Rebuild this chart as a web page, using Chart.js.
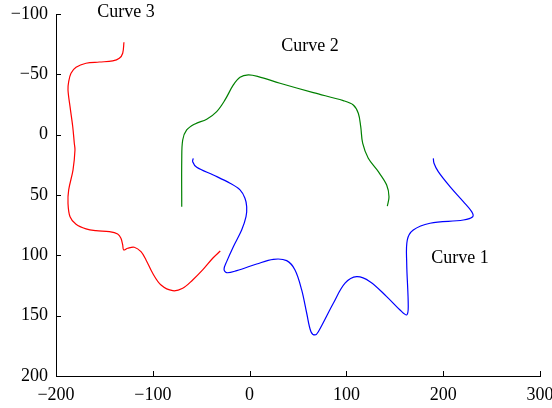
<!DOCTYPE html>
<html lang="en">
<head>
    <meta charset="UTF-8">
    <title>Curves</title>
    <script src="https://cdn.jsdelivr.net/npm/chart.js"></script>
    <style>
        * { margin: 0; padding: 0; box-sizing: border-box; }
        body { background: #fff; }
        .wrap { width: 552px; height: 408px; position: relative; }
    </style>
</head>
<body>
    <div class="wrap"><canvas id="chart"></canvas></div>

    <script>
        // data
        const curve1X = [-58.2, -58.8, -54.6, -37.5, -20.2, -9.9, -4.8, -3.0, -3.7, -8.2, -16.8, -23.7, -26.4, -23.7, -13.3, 7.3, 24.5, 38.3, 46.9, 53.8, 59.0, 63.4, 67.6, 71.0, 86.5, 98.6, 110.6, 124.4, 141.6, 155.4, 162.3, 163.9, 162.3, 162.9, 169.1, 186.4, 220.8, 230.5, 229.4, 220.8, 207.0, 194.9, 190.5, 189.8];
        const curve1Y = [19.6, 22.4, 27.0, 33.4, 40.3, 45.8, 52.7, 59.7, 68.0, 79.0, 92.8, 105.2, 111.5, 114.4, 112.7, 107.2, 103.3, 104.4, 112.1, 128.7, 148.0, 163.3, 166.0, 163.3, 139.7, 123.1, 117.7, 121.8, 134.2, 145.3, 149.4, 142.5, 106.6, 87.3, 79.0, 73.4, 70.7, 68.0, 63.8, 55.5, 43.1, 30.7, 23.7, 19.6];

        const curve2X = [-70.1, -70.1, -69.1, -65.0, -56.4, -44.3, -34.0, -25.4, -16.8, -9.9, -1.3, 9.0, 31.4, 65.8, 96.8, 107.1, 112.3, 114.8, 116.8, 122.6, 133.0, 141.6, 144.0, 142.3];
        const curve2Y = [59.7, 21.0, 4.4, -3.9, -8.9, -12.8, -19.1, -28.8, -41.2, -47.6, -49.5, -48.1, -42.6, -34.8, -28.2, -24.6, -17.7, -6.6, 7.1, 19.6, 30.7, 41.7, 51.4, 59.3];

        const curve3X = [-129.8, -131.1, -134.6, -141.4, -155.3, -169.0, -179.3, -184.5, -186.9, -187.6, -185.5, -182.7, -181.1, -180.4, -182.4, -186.9, -187.6, -185.5, -179.3, -169.0, -158.7, -144.9, -136.3, -132.9, -131.1, -130.1, -125.9, -119.1, -112.2, -107.0, -100.1, -91.5, -79.4, -69.1, -58.8, -48.5, -38.1, -30.3];
        const curve3Y = [-76.6, -67.5, -63.3, -61.1, -60.2, -59.2, -55.9, -50.9, -43.9, -37.0, -23.2, -6.6, 7.1, 12.7, 29.2, 45.8, 56.8, 68.0, 74.3, 78.1, 79.6, 80.4, 82.3, 85.9, 91.4, 95.5, 94.1, 93.3, 97.0, 103.8, 114.9, 124.6, 129.3, 127.3, 120.4, 112.1, 102.4, 96.4];

        const xTicks = [-200, -100, 0, 100, 200, 300];
        const yTicks = [-100, -50, 0, 50, 100, 150, 200];

        const curveLabels = ['Curve 1', 'Curve 2', 'Curve 3'];
        const labelX = [217.4, 62.4, -127.7];
        const labelY = [102.2, -73.5, -101.7];

        const font = 'Liberation Serif, Times New Roman, serif';

        function pts(xs, ys) {
            return xs.map((x, i) => ({ x: x, y: ys[i] }));
        }

        function minus(v) {
            return String(v).replace('-', '\u2212');
        }

        // inward tick marks + curve names
        const extras = {
            id: 'extras',
            afterDraw(chart) {
                const ctx = chart.ctx;
                const xs = chart.scales.x, ys = chart.scales.y;
                const area = chart.chartArea;
                ctx.save();
                ctx.strokeStyle = '#000';
                ctx.lineWidth = 1;
                ctx.beginPath();
                xTicks.forEach(t => {
                    const px = Math.round(xs.getPixelForValue(t)) + 0.5;
                    ctx.moveTo(px, area.bottom);
                    ctx.lineTo(px, area.bottom - 5);
                });
                yTicks.forEach(t => {
                    const py = Math.round(ys.getPixelForValue(t)) + 0.5;
                    ctx.moveTo(area.left, py);
                    ctx.lineTo(area.left + 5, py);
                });
                ctx.stroke();

                ctx.fillStyle = '#000';
                ctx.font = '18px ' + font;
                ctx.textAlign = 'center';
                ctx.textBaseline = 'middle';
                curveLabels.forEach((txt, i) => {
                    ctx.fillText(txt, xs.getPixelForValue(labelX[i]), ys.getPixelForValue(labelY[i]));
                });
                ctx.restore();
            }
        };

        new Chart(document.getElementById('chart'), {
            type: 'scatter',
            data: {
                datasets: [
                    { data: pts(curve1X, curve1Y), borderColor: '#0000ff' },
                    { data: pts(curve2X, curve2Y), borderColor: '#008000' },
                    { data: pts(curve3X, curve3Y), borderColor: '#ff0000' }
                ].map(d => Object.assign(d, {
                    showLine: true,
                    tension: 0.35,
                    borderWidth: 1.2,
                    pointRadius: 0,
                    fill: false
                }))
            },
            options: {
                responsive: true,
                maintainAspectRatio: false,
                animation: false,
                layout: { padding: { left: 0, right: 12, top: 14, bottom: 0 } },
                plugins: {
                    legend: { display: false },
                    tooltip: { enabled: false }
                },
                scales: {
                    x: {
                        type: 'linear',
                        min: -200,
                        max: 300,
                        afterBuildTicks: s => { s.ticks = xTicks.map(v => ({ value: v })); },
                        afterFit: s => { s.height = 32; s.paddingLeft = 0; s.paddingRight = 0; },
                        grid: { display: false, drawTicks: false },
                        border: { display: true, color: '#000', width: 1 },
                        ticks: {
                            padding: 8,
                            color: '#000',
                            font: { family: font, size: 18 },
                            maxRotation: 0,
                            callback: v => minus(v)
                        }
                    },
                    y: {
                        type: 'linear',
                        reverse: true,
                        min: -100,
                        max: 200,
                        afterBuildTicks: s => { s.ticks = yTicks.map(v => ({ value: v })); },
                        afterFit: s => { s.width = 56; s.paddingTop = 0; s.paddingBottom = 0; },
                        grid: { display: false, drawTicks: false },
                        border: { display: true, color: '#000', width: 1 },
                        ticks: {
                            padding: 8,
                            color: '#000',
                            font: { family: font, size: 18 },
                            callback: v => minus(v)
                        }
                    }
                }
            },
            plugins: [extras]
        });
    </script>
</body>
</html>
